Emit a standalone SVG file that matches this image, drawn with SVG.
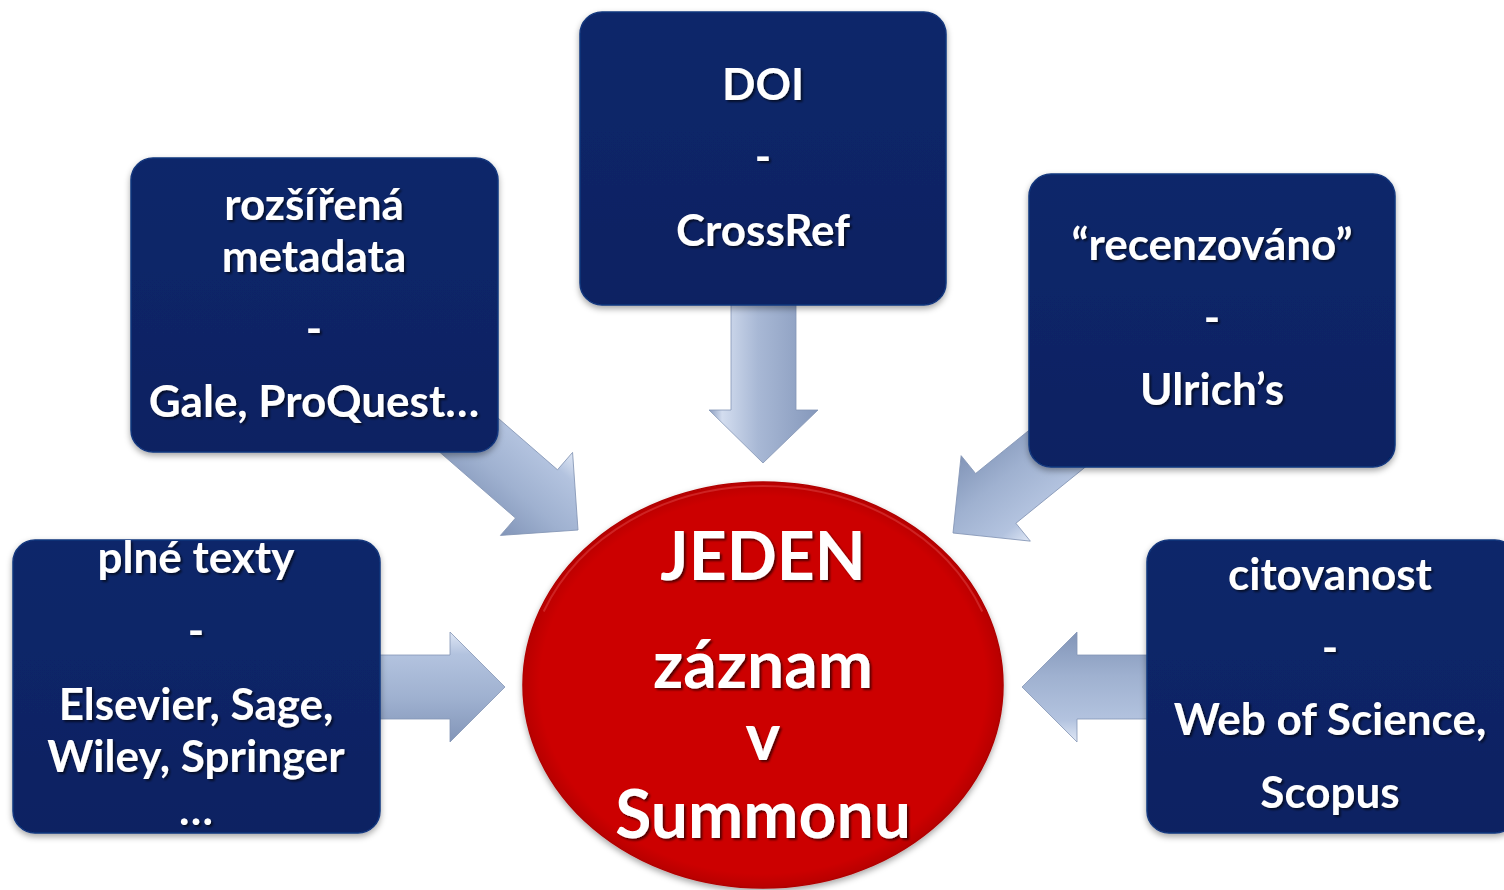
<svg xmlns="http://www.w3.org/2000/svg" width="1504" height="890" viewBox="0 0 1504 890">
<defs>
<style>
.box{fill:url(#boxg);stroke:#14377d;stroke-width:1.5}
.arrow{fill:url(#arrg);stroke:#8495b5;stroke-width:0.8}
.t{font-family:Lato,"Noto Sans","Liberation Sans",sans-serif;font-weight:bold;fill:#ffffff;text-anchor:middle;filter:url(#tsh)}
.s44{font-size:44px}
.s66{font-size:66px}
</style>
<linearGradient id="boxg" x1="0" y1="0" x2="0" y2="1">
<stop offset="0" stop-color="#0a276a"/>
<stop offset="1" stop-color="#072262"/>
</linearGradient>
<linearGradient id="arrg" x1="0" y1="0" x2="0" y2="1">
<stop offset="0" stop-color="#dfe7f5"/>
<stop offset="0.2" stop-color="#b3c3df"/>
<stop offset="0.6" stop-color="#9fb1d0"/>
<stop offset="1" stop-color="#8295b8"/>
</linearGradient>
<linearGradient id="arrv" x1="0" y1="0" x2="1" y2="0">
<stop offset="0" stop-color="#8b9dbf"/>
<stop offset="0.12" stop-color="#d3ddef"/>
<stop offset="0.45" stop-color="#a8b8d5"/>
<stop offset="1" stop-color="#8598bb"/>
</linearGradient>
<radialGradient id="circg" cx="0.5" cy="0.5" r="0.5">
<stop offset="0" stop-color="#cc0000"/>
<stop offset="0.93" stop-color="#cc0000"/>
<stop offset="1" stop-color="#b80202"/>
</radialGradient>
<filter id="sh" x="-10%" y="-10%" width="120%" height="125%">
<feDropShadow dx="0" dy="3" stdDeviation="3" flood-color="#000" flood-opacity="0.35"/>
</filter>
<filter id="tsh" x="-10%" y="-20%" width="120%" height="150%">
<feDropShadow dx="2" dy="2" stdDeviation="1.2" flood-color="#000" flood-opacity="0.6"/>
</filter>
</defs>
<rect width="1504" height="890" fill="#ffffff"/>

<g id="connectors">
<polygon class="arrow" style="fill:url(#arrv)" points="731,300 796,300 796,410 818,410 763,463 709,410 731,410"/>
<polygon class="arrow" transform="translate(578,530) rotate(41)" points="-170,-32 -55,-32 -55,-55 0,0 -55,55 -55,32 -170,32"/>
<polygon class="arrow" transform="translate(953,533) rotate(141)" points="-170,-32 -55,-32 -55,-55 0,0 -55,55 -55,32 -170,32"/>
<polygon class="arrow" transform="translate(505,687)" points="-130,-32 -55,-32 -55,-55 0,0 -55,55 -55,32 -130,32"/>
<polygon class="arrow" transform="translate(1022,687) rotate(180)" points="-130,-32 -55,-32 -55,-55 0,0 -55,55 -55,32 -130,32"/>
</g>

<g id="node-metadata">
<rect class="box" x="131" y="158" width="367" height="294" rx="22" filter="url(#sh)"/>
<text class="t s44" x="314" y="220">rozšířená</text>
<text class="t s44" x="314" y="272">metadata</text>
<text class="t s44" x="314" y="344">-</text>
<text class="t s44" x="314" y="417">Gale, ProQuest…</text>
</g>

<g id="node-doi">
<rect class="box" x="580" y="12" width="366" height="293" rx="22" filter="url(#sh)"/>
<text class="t s44" x="763" y="100">DOI</text>
<text class="t s44" x="763" y="172">-</text>
<text class="t s44" x="763" y="246">CrossRef</text>
</g>

<g id="node-recenzovano">
<rect class="box" x="1029" y="174" width="366" height="293" rx="22" filter="url(#sh)"/>
<text class="t s44" x="1212" y="260">“recenzováno”</text>
<text class="t s44" x="1212" y="333">-</text>
<text class="t s44" x="1212" y="405">Ulrich’s</text>
</g>

<g id="node-plne-texty">
<rect class="box" x="13" y="540" width="367" height="293" rx="22" filter="url(#sh)"/>
<text class="t s44" x="196" y="573">plné texty</text>
<text class="t s44" x="196" y="646">-</text>
<text class="t s44" x="196" y="720">Elsevier, Sage,</text>
<text class="t s44" x="196" y="772">Wiley, Springer</text>
<text class="t s44" x="196" y="825">…</text>
</g>

<g id="node-citovanost">
<rect class="box" x="1147" y="540" width="370" height="293" rx="22" filter="url(#sh)"/>
<text class="t s44" x="1330" y="590">citovanost</text>
<text class="t s44" x="1330" y="663">-</text>
<text class="t s44" x="1330" y="735">Web of Science,</text>
<text class="t s44" x="1330" y="808">Scopus</text>
</g>

<g id="node-center">
<ellipse cx="763" cy="685" rx="240" ry="203" fill="url(#circg)" stroke="#b00000" stroke-width="1.5" filter="url(#sh)"/>
<ellipse cx="763" cy="685" rx="236" ry="199" fill="none" stroke="#e04545" stroke-width="2" stroke-opacity="0.5" stroke-dasharray="0 1111 778 2000" pathLength="2000"/>
<text class="t s66" x="763" y="580">JEDEN</text>
<text class="t s66" x="763" y="688">záznam</text>
<text class="t s66" x="763" y="760">v</text>
<text class="t s66" x="763" y="838">Summonu</text>
</g>
</svg>
